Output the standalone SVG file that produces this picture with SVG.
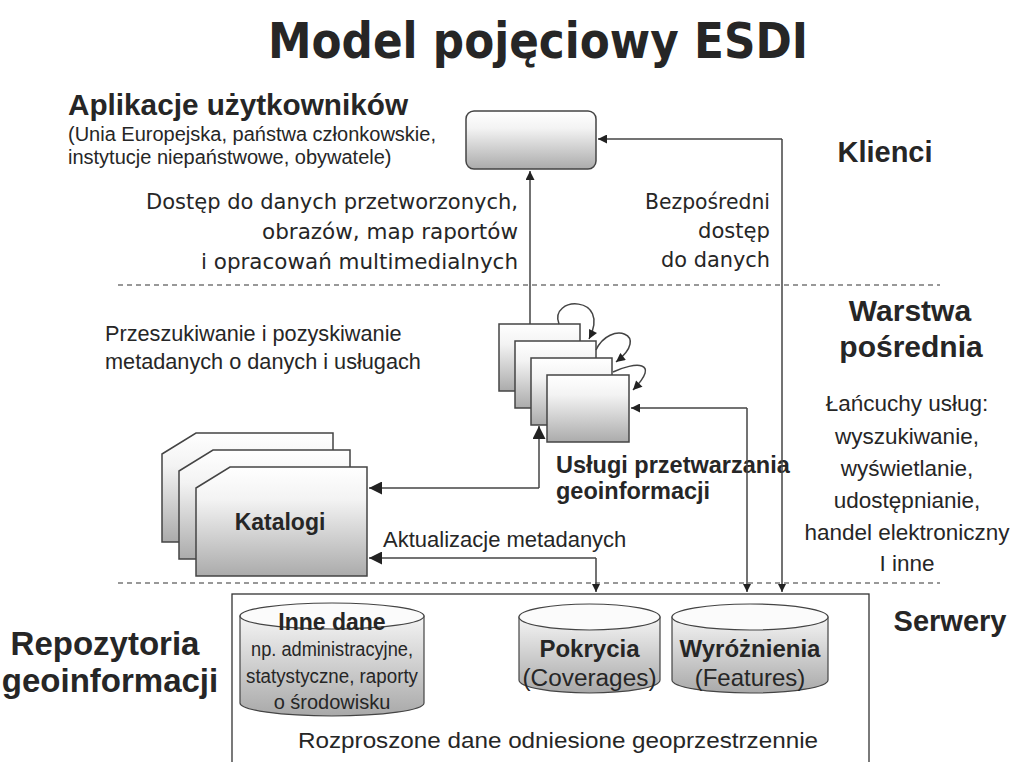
<svg xmlns="http://www.w3.org/2000/svg" width="1018" height="762" viewBox="0 0 1018 762">
<defs>
<linearGradient id="gbox" x1="0" y1="0" x2="0" y2="1">
<stop offset="0" stop-color="#ffffff"/><stop offset="0.3" stop-color="#f3f3f3"/><stop offset="1" stop-color="#ababab"/>
</linearGradient>
<linearGradient id="gcyl" x1="0" y1="0" x2="0" y2="1">
<stop offset="0" stop-color="#f4f4f4"/><stop offset="1" stop-color="#a9a9a9"/>
</linearGradient>
<marker id="am" viewBox="0 0 10 10" refX="10" refY="5" markerWidth="11" markerHeight="9" markerUnits="userSpaceOnUse" orient="auto"><path d="M0,0 L10,5 L0,10 Z" fill="#222"/></marker>
<marker id="ab" viewBox="0 0 10 10" refX="10" refY="5" markerWidth="16" markerHeight="13" markerUnits="userSpaceOnUse" orient="auto"><path d="M0,0 L10,5 L0,10 Z" fill="#222"/></marker>
<marker id="as" viewBox="0 0 10 10" refX="10" refY="5" markerWidth="9" markerHeight="8" markerUnits="userSpaceOnUse" orient="auto"><path d="M0,0 L10,5 L0,10 Z" fill="#222"/></marker>
<style>
.t{font-family:"Liberation Sans",Arial,sans-serif;fill:#262626}
.b{font-weight:bold}
.th{font-family:"DejaVu Sans",Verdana,sans-serif;fill:#262626}
.box{fill:url(#gbox);stroke:#444;stroke-width:1.5}
.cyl{fill:url(#gcyl);stroke:#444;stroke-width:1.2}
.top{fill:#fbfbfb;stroke:#444;stroke-width:1.2}
.c{fill:none;stroke:#444;stroke-width:1.5}
.d{fill:none;stroke:#777;stroke-width:1.3;stroke-dasharray:5 4}
</style>
</defs>
<rect width="1018" height="762" fill="#ffffff"/>

<text class="th b" x="268" y="58" font-size="50" textLength="540" lengthAdjust="spacingAndGlyphs">Model pojęciowy ESDI</text>

<g id="layers">
<line class="d" x1="118" y1="285" x2="940" y2="285"/>
<line class="d" x1="118" y1="583" x2="940" y2="583"/>
<text class="t b" x="885" y="162" font-size="29" text-anchor="middle">Klienci</text>
<text class="t b" x="910" y="321" font-size="30" text-anchor="middle">Warstwa</text>
<text class="t b" x="911" y="357" font-size="30" text-anchor="middle">pośrednia</text>
<text class="t b" x="950" y="631" font-size="29" text-anchor="middle">Serwery</text>
<text class="t b" x="105" y="655" font-size="33" text-anchor="middle">Repozytoria</text>
<text class="t b" x="110" y="692" font-size="33" text-anchor="middle">geoinformacji</text>
</g>

<g id="apps">
<text class="t b" x="68" y="115" font-size="29" textLength="340" lengthAdjust="spacingAndGlyphs">Aplikacje użytkowników</text>
<text class="t" x="68" y="141" font-size="20">(Unia Europejska, państwa członkowskie,</text>
<text class="t" x="68" y="164" font-size="20">instytucje niepaństwowe, obywatele)</text>
<rect class="box" x="466" y="111" width="130" height="58" rx="8"/>
</g>

<g id="labels">
<text class="th" x="518" y="209" font-size="22" text-anchor="end" textLength="372" lengthAdjust="spacingAndGlyphs">Dostęp do danych przetworzonych,</text>
<text class="th" x="518" y="239" font-size="22" text-anchor="end" textLength="256" lengthAdjust="spacingAndGlyphs">obrazów, map raportów</text>
<text class="th" x="518" y="269" font-size="22" text-anchor="end" textLength="317" lengthAdjust="spacingAndGlyphs">i opracowań multimedialnych</text>
<text class="th" x="770" y="209" font-size="22" text-anchor="end" textLength="125" lengthAdjust="spacingAndGlyphs">Bezpośredni</text>
<text class="th" x="770" y="238" font-size="22" text-anchor="end" textLength="72" lengthAdjust="spacingAndGlyphs">dostęp</text>
<text class="th" x="770" y="267" font-size="22" text-anchor="end" textLength="109" lengthAdjust="spacingAndGlyphs">do danych</text>
<text class="t" x="105" y="341" font-size="21.7">Przeszukiwanie i pozyskiwanie</text>
<text class="t" x="105" y="369" font-size="21.7">metadanych o danych i usługach</text>
<text class="t" x="907" y="411" font-size="22.5" text-anchor="middle">Łańcuchy usług:</text>
<text class="t" x="907" y="444" font-size="22.5" text-anchor="middle">wyszukiwanie,</text>
<text class="t" x="907" y="476" font-size="22.5" text-anchor="middle">wyświetlanie,</text>
<text class="t" x="907" y="508" font-size="22.5" text-anchor="middle">udostępnianie,</text>
<text class="t" x="907" y="540" font-size="22.5" text-anchor="middle">handel elektroniczny</text>
<text class="t" x="907" y="571" font-size="22.5" text-anchor="middle">I inne</text>
<text class="t" x="383" y="547" font-size="22">Aktualizacje metadanych</text>
</g>

<g id="services">
<rect class="box" x="499" y="324" width="81" height="67"/>
<rect class="box" x="515" y="341" width="81" height="67"/>
<rect class="box" x="531" y="358" width="81" height="67"/>
<rect class="box" x="547" y="375" width="82" height="67"/>
<text class="t b" x="556" y="473" font-size="23.5">Usługi przetwarzania</text>
<text class="t b" x="556" y="499" font-size="23.5">geoinformacji</text>
</g>

<g id="catalogs">
<path class="box" d="M162,454 L196,433 L333,433 L333,542 L162,542 Z"/>
<path class="box" d="M179,471 L213,450 L350,450 L350,559 L179,559 Z"/>
<path class="box" d="M196,488 L230,467 L367,467 L367,576 L196,576 Z"/>
<text class="t b" x="280" y="530" font-size="23" text-anchor="middle">Katalogi</text>
</g>

<g id="servers">
<rect x="232" y="594" width="637" height="200" fill="#ffffff" stroke="#333" stroke-width="1.3"/>
<text class="t" x="558" y="748" font-size="22" text-anchor="middle" textLength="520" lengthAdjust="spacingAndGlyphs">Rozproszone dane odniesione geoprzestrzennie</text>
</g>

<g id="other-data">
<path class="cyl" d="M240,616 L240,703 A92,13 0 0 0 424,703 L424,616 Z"/>
<ellipse class="top" cx="332" cy="616" rx="92" ry="13"/>
<text class="t b" x="332" y="630" font-size="23" text-anchor="middle">Inne dane</text>
<text class="t" x="332" y="656" font-size="20" text-anchor="middle" textLength="162" lengthAdjust="spacingAndGlyphs">np. administracyjne,</text>
<text class="t" x="332" y="683" font-size="20" text-anchor="middle" textLength="172" lengthAdjust="spacingAndGlyphs">statystyczne, raporty</text>
<text class="t" x="332" y="709" font-size="20" text-anchor="middle">o środowisku</text>
</g>

<g id="coverages">
<path class="cyl" d="M519,617 L519,680 A70.5,13 0 0 0 660,680 L660,617 Z"/>
<ellipse class="top" cx="589.5" cy="617" rx="70.5" ry="13"/>
<text class="t b" x="589.5" y="657" font-size="24" text-anchor="middle">Pokrycia</text>
<text class="t" x="589.5" y="686" font-size="23" text-anchor="middle" textLength="134" lengthAdjust="spacingAndGlyphs">(Coverages)</text>
</g>

<g id="features">
<path class="cyl" d="M672,617 L672,680 A78,13 0 0 0 828,680 L828,617 Z"/>
<ellipse class="top" cx="750" cy="617" rx="78" ry="13"/>
<text class="t b" x="750" y="657" font-size="24" text-anchor="middle">Wyróżnienia</text>
<text class="t" x="750" y="686" font-size="24" text-anchor="middle">(Features)</text>
</g>

<g id="connectors">
<path class="c" d="M530,324 L530,171" marker-end="url(#am)"/>
<path class="c" d="M782,139 L598,139" marker-end="url(#am)"/>
<path class="c" d="M782,139 L782,592" marker-end="url(#as)"/>
<path class="c" d="M747,408 L631,408" marker-end="url(#am)"/>
<path class="c" d="M747,408 L747,592" marker-end="url(#as)"/>
<path class="c" d="M539,488 L539,426" marker-end="url(#ab)"/>
<path class="c" d="M539,488 L369,488" marker-end="url(#ab)"/>
<path class="c" d="M596,558 L369,558" marker-end="url(#ab)"/>
<path class="c" d="M596,558 L596,592" marker-end="url(#as)"/>
<path class="c" d="M559,324 C548,296 612,294 589,339" marker-end="url(#am)"/>
<path class="c" d="M596,350 C610,320 652,334 616,362" marker-end="url(#am)"/>
<path class="c" d="M613,372 C634,362 662,360 633,390" marker-end="url(#am)"/>
</g>
</svg>
